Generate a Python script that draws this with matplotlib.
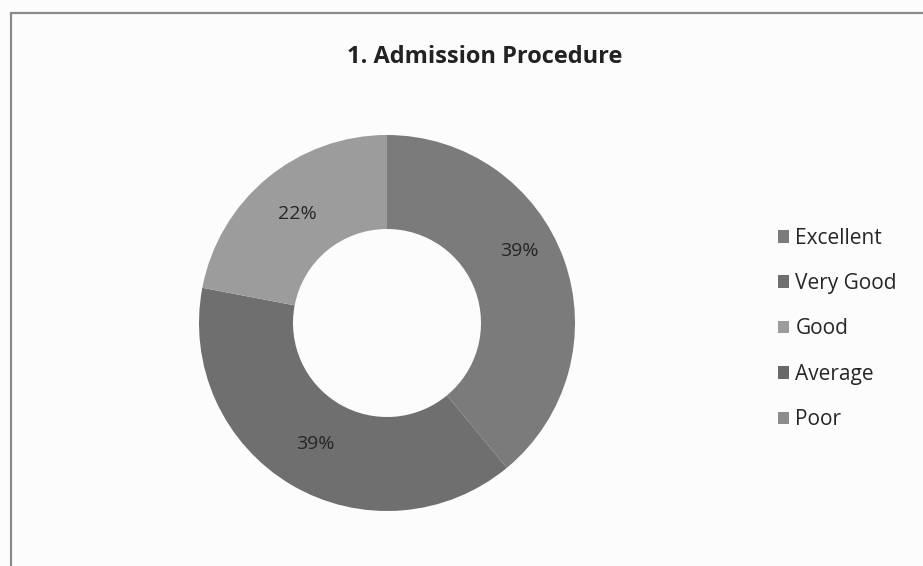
import matplotlib.pyplot as plt
from matplotlib.patches import Rectangle

# --- Data ---
categories = ["Excellent", "Very Good", "Good", "Average", "Poor"]
shares = [39, 39, 22, 0, 0]
colors = ["#7b7b7b", "#6f6f6f", "#9c9c9c", "#686868", "#8c8c8c"]
title = "1. Admission Procedure"

plt.rcParams['font.family'] = ['Open Sans', 'DejaVu Sans']

W, H = 923, 566
fig = plt.figure(figsize=(W / 100, H / 100), dpi=100)
fig.patch.set_facecolor("#fcfcfc")

# chart frame (only left/top edges visible in the scan)
fig.patches.append(Rectangle((11 / W, -0.05), 1.2, (H - 13) / H + 0.05,
                             transform=fig.transFigure, fill=False,
                             edgecolor="#8a8a8a", linewidth=1.6))

# donut
cx, cy, r = 387, H - 323, 188
ax = fig.add_axes([(cx - r) / W, (cy - r) / H, 2 * r / W, 2 * r / H])
wedges, _, autotexts = ax.pie(
    shares, colors=colors, startangle=90, counterclock=False,
    radius=1.0, wedgeprops=dict(width=0.5, linewidth=0),
    autopct=lambda p: f"{p:.0f}%" if p > 0 else "", pctdistance=0.75,
    textprops=dict(fontsize=14, color="#262626"))
ax.set_xlim(-1, 1)
ax.set_ylim(-1, 1)
ax.set_aspect("equal")
ax.axis("off")

# Excel put the first label slightly higher on the ring
x0, y0 = autotexts[0].get_position()
autotexts[0].set_position((x0, y0 + 0.13))

fig.text(485 / W, 1 - 57 / H, title, ha="center", va="center",
         fontsize=17, fontweight="bold", color="#222222")

fig.legend(wedges, categories, loc="upper left",
           bbox_to_anchor=(759 / W, 1 - 209 / H), frameon=False,
           fontsize=15, handlelength=0.55, handleheight=0.55,
           handletextpad=0.3, labelspacing=1.17, labelcolor="#262626")

fig.savefig("out.png", dpi=100, facecolor=fig.get_facecolor())
